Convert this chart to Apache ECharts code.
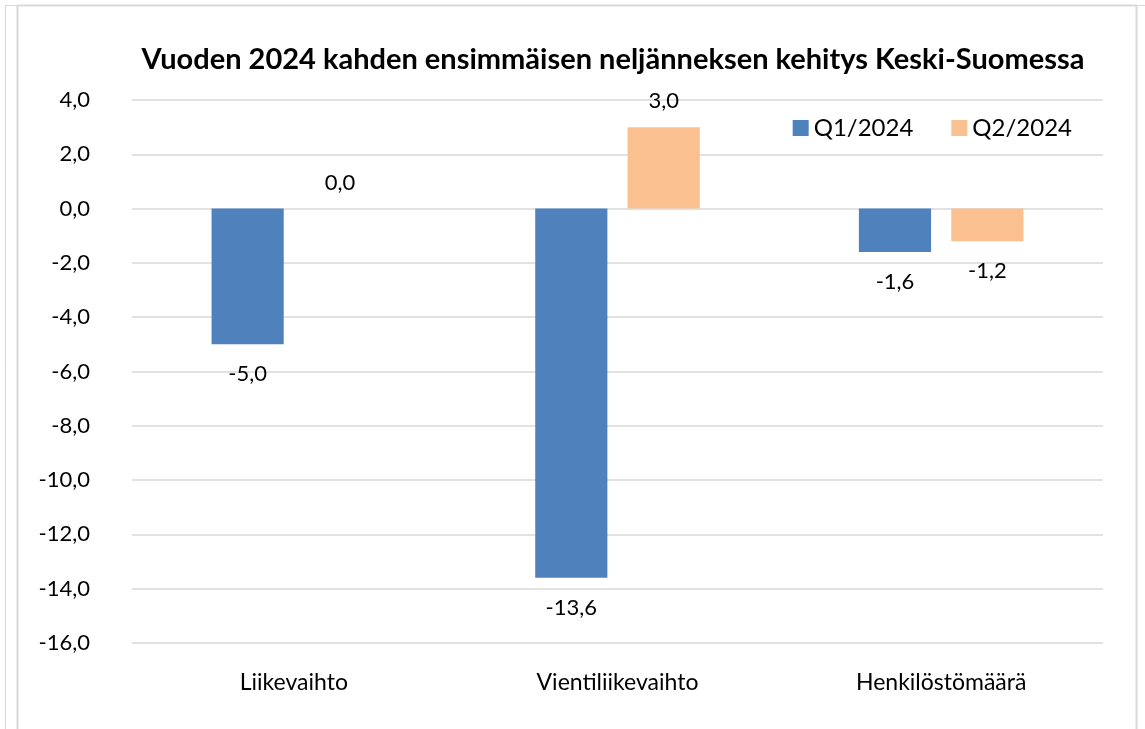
<!DOCTYPE html>
<html>
<head>
<meta charset="utf-8">
<script src="https://cdn.jsdelivr.net/npm/echarts@6/dist/echarts.min.js"></script>
<style>
  html, body { margin: 0; padding: 0; background: #fff; }
  #main { width: 1145px; height: 729px; }
</style>
</head>
<body>
<div id="main"></div>
<script>
var categories = ['Liikevaihto', 'Vientiliikevaihto', 'Henkilöstömäärä']
var seriesNames = ['Q1/2024', 'Q2/2024']
var q1Values = [-5.0, -13.6, -1.6]
var q2Values = [0.0, 3.0, -1.2]
var colors = ['#4F81BD', '#FAC090']

var fontFamily = 'Lato, "Noto Sans", sans-serif'

function fmt (v) {
  return v.toFixed(1).replace('.', ',')
}

// label above for positive / zero, below for negative
function withLabels (values) {
  return values.map(function (v) {
    return {
      value: v,
      label: {
        position: v < 0 ? 'bottom' : 'top',
        distance: v < 0 ? 19 : 15
      }
    }
  })
}

var chart = echarts.init(document.getElementById('main'))

var option = {
  animation: false,
  backgroundColor: '#fff',
  graphic: [
    { type: 'rect', shape: { x: 5.5, y: 5.5, width: 1200, height: 800 }, style: { fill: 'none', stroke: '#d9d9d9', lineWidth: 1 } },
    { type: 'rect', shape: { x: 17.5, y: 5.5, width: 1119, height: 800 }, style: { fill: 'none', stroke: '#d9d9d9', lineWidth: 2 } }
  ],
  title: {
    text: 'Vuoden 2024 kahden ensimmäisen neljänneksen kehitys Keski-Suomessa',
    left: 608,
    textAlign: 'center',
    top: 40,
    textStyle: { fontFamily: fontFamily, fontWeight: 'bold', fontSize: 29, color: '#000' }
  },
  legend: {
    right: 68,
    top: 111,
    itemWidth: 16,
    itemHeight: 16,
    itemGap: 38,
    icon: 'rect',
    textStyle: { fontFamily: fontFamily, fontSize: 24, color: '#000' },
    data: seriesNames
  },
  grid: {
    left: 132,
    right: 42,
    top: 100,
    bottom: 86,
    containLabel: false
  },
  xAxis: {
    type: 'category',
    data: categories,
    position: 'bottom',
    axisLine: { show: false },
    axisTick: { show: false },
    axisLabel: { margin: 28, fontFamily: fontFamily, fontSize: 23, color: '#000' }
  },
  yAxis: {
    type: 'value',
    min: -16,
    max: 4,
    interval: 2,
    axisLine: { show: false },
    axisTick: { show: false },
    splitLine: { lineStyle: { color: '#d9d9d9', width: 1.5 } },
    axisLabel: {
      margin: 42,
      fontFamily: fontFamily,
      fontSize: 22,
      color: '#000',
      formatter: function (v) { return fmt(v) }
    }
  },
  series: [
    {
      name: seriesNames[0],
      type: 'bar',
      barWidth: '22.3%',
      barGap: '28%',
      itemStyle: { color: colors[0] },
      label: {
        show: true,
        fontFamily: fontFamily,
        fontSize: 22,
        color: '#000',
        formatter: function (p) { return fmt(p.value) }
      },
      data: withLabels(q1Values)
    },
    {
      name: seriesNames[1],
      type: 'bar',
      barWidth: '22.3%',
      barGap: '28%',
      itemStyle: { color: colors[1] },
      label: {
        show: true,
        fontFamily: fontFamily,
        fontSize: 22,
        color: '#000',
        formatter: function (p) { return fmt(p.value) }
      },
      data: withLabels(q2Values)
    }
  ]
}

chart.setOption(option)
</script>
</body>
</html>
